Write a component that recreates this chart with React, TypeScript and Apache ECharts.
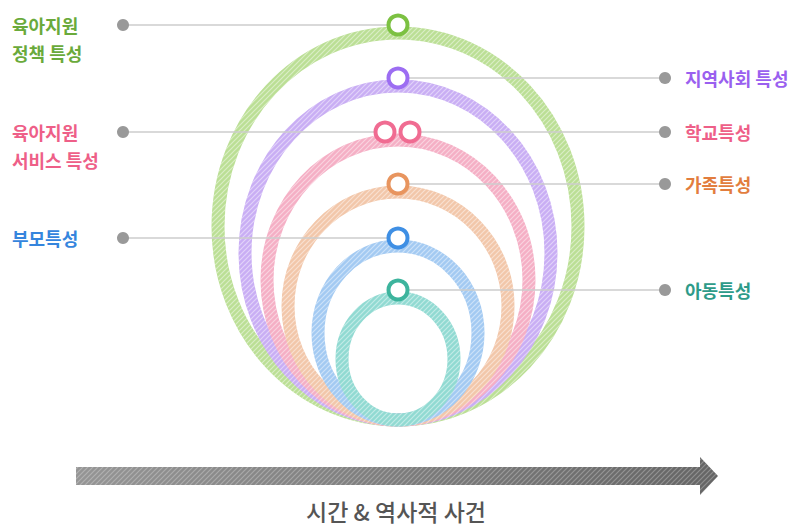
import React, { useEffect, useRef } from "react";
import * as echarts from "echarts";

// ---- data ----
const ringNames = ["육아지원 정책", "지역사회", "육아지원 서비스·학교", "가족", "부모", "아동"];
const ringTopY = [33, 86, 140, 192, 246, 298];
const ringBottomY = [420, 420, 420, 420, 420, 420];
const ringHalfWidth = [180, 153, 131, 110, 80, 56];
const ringCenterX = [398, 398, 398, 398, 398, 398];

const labelTexts = ["육아지원\n정책 특성", "지역사회 특성", "육아지원\n서비스 특성", "학교특성", "가족특성", "부모특성", "아동특성"];
const labelRing = [0, 1, 2, 2, 3, 4, 5];
const labelSide = ["left", "right", "left", "right", "right", "left", "right"];
const labelMarkerShift = [0, 0, -13, 12, 0, 0, 0];

const axisTitle = "시간 & 역사적 사건";

// ---- layout / style ----
const W = 795;
const H = 529;
const LEFT_TEXT_X = 12;
const LEFT_DOT_X = 123;
const RIGHT_DOT_X = 665;
const RIGHT_TEXT_X = 685;
const MARKER_LIFT = 8;
const RING_WIDTH = 13;
const ARROW = { x0: 76, xb: 700, xt: 718, bt: 467, bb: 485, ht: 457, hb: 495, ty: 511 };

const ringStroke = ["#bbdf95", "#c9aef4", "#f5afc5", "#f2c7aa", "#a3caf2", "#91dad2"];
const markerColor = ["#7cc142", "#9c6df2", "#f06c92", "#e8955f", "#3f8fe4", "#3db49d"];
const labelColor = ["#6aaa3b", "#9a60ef", "#ee5f88", "#ee5f88", "#e27d3e", "#3585dd", "#2e9b89"];
const FONT = "'Noto Sans CJK KR', 'Noto Sans', sans-serif";

function makeStripes(alpha: number, size: number, lw: number) {
  const c = document.createElement("canvas");
  c.width = size;
  c.height = size;
  const ctx = c.getContext("2d");
  if (ctx) {
    ctx.strokeStyle = `rgba(255,255,255,${alpha})`;
    ctx.lineWidth = lw;
    ctx.beginPath();
    ctx.moveTo(-1, size + 1);
    ctx.lineTo(size + 1, -1);
    ctx.moveTo(-1, 1);
    ctx.lineTo(1, -1);
    ctx.moveTo(size - 1, size + 1);
    ctx.lineTo(size + 1, size - 1);
    ctx.stroke();
  }
  return c;
}

export default function App() {
  const ref = useRef<HTMLDivElement>(null);
  useEffect(() => {
    if (!ref.current) return;
    const chart = echarts.init(ref.current, null, { renderer: "svg" });

    const stripeCanvas = makeStripes(0.45, 5, 1.2);
    const stripe = () => ({
      image: stripeCanvas,
      repeat: "repeat",
      imageWidth: 5,
      imageHeight: 5,
    });

    const ringData = ringNames.map((n, i) => ({
      name: n,
      value: [ringCenterX[i], ringTopY[i], ringBottomY[i], ringHalfWidth[i]],
    }));

    const markerPts = labelTexts.map((t, i) => {
      const r = labelRing[i];
      return [ringCenterX[r] + labelMarkerShift[i], ringTopY[r] - MARKER_LIFT];
    });

    const connData = labelTexts.map((t, i) => {
      const [mx, my] = markerPts[i];
      const dx = labelSide[i] === "left" ? LEFT_DOT_X : RIGHT_DOT_X;
      return { name: t, value: [dx, my, mx] };
    });

    const dotData = labelTexts.map((t, i) => ({
      name: t,
      value: [labelSide[i] === "left" ? LEFT_DOT_X : RIGHT_DOT_X, markerPts[i][1]],
    }));

    const markerData = labelTexts.map((t, i) => ({
      name: t,
      value: markerPts[i],
      itemStyle: { borderColor: markerColor[labelRing[i]] },
    }));

    const textData = labelTexts.map((t, i) => ({
      name: t,
      value: [labelSide[i] === "left" ? LEFT_TEXT_X : RIGHT_TEXT_X, markerPts[i][1]],
    }));

    const option: any = {
      animation: false,
      grid: { left: 0, right: 0, top: 0, bottom: 0 },
      xAxis: { type: "value", min: 0, max: W, show: false },
      yAxis: { type: "value", min: 0, max: H, inverse: true, show: false },
      series: [
        {
          type: "custom",
          name: "rings",
          data: ringData,
          z: 1,
          renderItem: (params: any, api: any) => {
            const cx = api.value(0);
            const top = api.value(1);
            const bottom = api.value(2);
            const hw = api.value(3);
            const c = api.coord([cx, (top + bottom) / 2]);
            const s = api.size([hw, (bottom - top) / 2]);
            const shape = { cx: c[0], cy: c[1], rx: Math.abs(s[0]), ry: Math.abs(s[1]) };
            return {
              type: "group",
              children: [
                {
                  type: "ellipse",
                  shape,
                  style: { fill: "none", stroke: ringStroke[params.dataIndex], lineWidth: RING_WIDTH },
                },
                {
                  type: "ellipse",
                  shape,
                  style: { fill: "none", stroke: stripe(), lineWidth: RING_WIDTH },
                },
              ],
            };
          },
        },
        {
          type: "custom",
          name: "connectors",
          data: connData,
          z: 2,
          renderItem: (params: any, api: any) => {
            const a = api.coord([api.value(0), api.value(1)]);
            const b = api.coord([api.value(2), api.value(1)]);
            return {
              type: "line",
              shape: { x1: a[0], y1: a[1], x2: b[0], y2: b[1] },
              style: { stroke: "#cccccc", lineWidth: 1.5 },
            };
          },
        },
        {
          type: "scatter",
          name: "dots",
          data: dotData,
          z: 3,
          symbol: "circle",
          symbolSize: 12,
          itemStyle: { color: "#999999", opacity: 1 },
          silent: true,
        },
        {
          type: "scatter",
          name: "markers",
          data: markerData,
          z: 4,
          symbol: "circle",
          symbolSize: 19,
          itemStyle: { color: "#ffffff", borderWidth: 4, opacity: 1 },
          silent: true,
        },
        {
          type: "custom",
          name: "labels",
          data: textData,
          z: 5,
          renderItem: (params: any, api: any) => {
            const p = api.coord([api.value(0), api.value(1)]);
            const i = params.dataIndex;
            return {
              type: "text",
              x: p[0],
              y: p[1] - 14,
              style: {
                text: labelTexts[i],
                fill: labelColor[i],
                font: `bold 18px ${FONT}`,
                textAlign: "left",
                textVerticalAlign: "top",
                lineHeight: 28,
              },
            };
          },
        },
        {
          type: "custom",
          name: "timeline",
          data: [{ name: axisTitle, value: [ARROW.x0, ARROW.xb, ARROW.xt] }],
          z: 1,
          renderItem: (params: any, api: any) => {
            const pt = (x: number, y: number) => api.coord([x, y]);
            const pts = [
              pt(api.value(0), ARROW.bt),
              pt(api.value(1), ARROW.bt),
              pt(api.value(1), ARROW.ht),
              pt(api.value(2), (ARROW.ht + ARROW.hb) / 2),
              pt(api.value(1), ARROW.hb),
              pt(api.value(1), ARROW.bb),
              pt(api.value(0), ARROW.bb),
            ];
            const tp = pt((api.value(0) + api.value(2)) / 2 - 1, ARROW.ty);
            return {
              type: "group",
              children: [
                {
                  type: "polygon",
                  shape: { points: pts },
                  style: {
                    fill: new echarts.graphic.LinearGradient(0, 0, 1, 0, [
                      { offset: 0, color: "#959595" },
                      { offset: 1, color: "#656565" },
                    ]),
                  },
                },
                {
                  type: "polygon",
                  shape: { points: pts },
                  style: { fill: stripe(), opacity: 0.6 },
                },
                {
                  type: "text",
                  x: tp[0],
                  y: tp[1],
                  style: {
                    text: axisTitle,
                    fill: "#555555",
                    font: `500 23px ${FONT}`,
                    textAlign: "center",
                    textVerticalAlign: "middle",
                  },
                },
              ],
            };
          },
        },
      ],
    };
    chart.setOption(option);
    return () => chart.dispose();
  }, []);
  return (
    <div
      ref={ref}
      style={{ width: W, height: H, position: "absolute", left: 0, top: 0, background: "#ffffff" }}
    />
  );
}
